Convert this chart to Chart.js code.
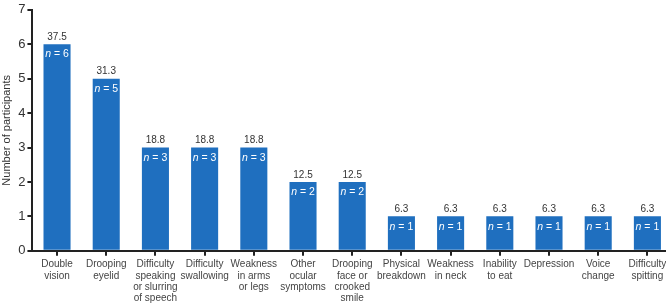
<!DOCTYPE html>
<html>
<head>
<meta charset="utf-8">
<script src="https://cdn.jsdelivr.net/npm/chart.js@4"></script>
<style>
  html, body { margin: 0; padding: 0; background: #fff; overflow: hidden; }
  #wrap { width: 666px; height: 304px; overflow: hidden; }
</style>
</head>
<body>
<div id="wrap"><canvas id="chartCanvas" width="672" height="304"></canvas></div>
<script>
// symptom categories (multi-line labels)
const categories = [
  ['Double', 'vision'],
  ['Drooping', 'eyelid'],
  ['Difficulty', 'speaking', 'or slurring', 'of speech'],
  ['Difficulty', 'swallowing'],
  ['Weakness', 'in arms', 'or legs'],
  ['Other', 'ocular', 'symptoms'],
  ['Drooping', 'face or', 'crooked', 'smile'],
  ['Physical', 'breakdown'],
  ['Weakness', 'in neck'],
  ['Inability', 'to eat'],
  ['Depression'],
  ['Voice', 'change'],
  ['Difficulty', 'spitting']
];
const counts = [6, 5, 3, 3, 3, 2, 2, 1, 1, 1, 1, 1, 1];
const percents = ['37.5', '31.3', '18.8', '18.8', '18.8', '12.5', '12.5', '6.3', '6.3', '6.3', '6.3', '6.3', '6.3'];
const yTicks = [0, 1, 2, 3, 4, 5, 6, 7];

const labelFont = 'Arial, "Liberation Sans", sans-serif';

// draws percentage above each bar and "n = x" inside
const barLabels = {
  id: 'barLabels',
  afterDatasetsDraw(chart) {
    const ctx = chart.ctx;
    const meta = chart.getDatasetMeta(0);
    ctx.save();
    meta.data.forEach((bar, i) => {
      ctx.textAlign = 'center';
      ctx.font = '10px ' + labelFont;
      ctx.fillStyle = '#333';
      ctx.textBaseline = 'bottom';
      ctx.fillText(percents[i], bar.x, bar.y - 2);

      // n = x, with italic n
      const rest = ' = ' + counts[i];
      ctx.font = 'italic 10.5px ' + labelFont;
      const w1 = ctx.measureText('n').width;
      ctx.font = '10.5px ' + labelFont;
      const w2 = ctx.measureText(rest).width;
      const x0 = bar.x - (w1 + w2) / 2;
      ctx.textAlign = 'left';
      ctx.textBaseline = 'top';
      ctx.fillStyle = '#fff';
      ctx.font = 'italic 10.5px ' + labelFont;
      ctx.fillText('n', x0, bar.y + 5);
      ctx.font = '10.5px ' + labelFont;
      ctx.fillText(rest, x0 + w1, bar.y + 5);
    });
    ctx.restore();
  }
};

const ctx = document.getElementById('chartCanvas').getContext('2d');
new Chart(ctx, {
  type: 'bar',
  data: {
    labels: categories,
    datasets: [{
      data: counts,
      backgroundColor: '#1f6fbf',
      barPercentage: 0.55,
      categoryPercentage: 1.0
    }]
  },
  options: {
    responsive: false,
    animation: false,
    layout: { padding: { top: -3, right: 0, left: 0, bottom: -3 } },
    plugins: {
      legend: { display: false },
      tooltip: { enabled: false }
    },
    scales: {
      x: {
        grid: { drawOnChartArea: false, drawTicks: true, tickLength: 5, color: '#222', lineWidth: 2, offset: false },
        border: { color: '#222', width: 2 },
        ticks: {
          color: '#444',
          font: { family: labelFont, size: 10, lineHeight: 1.13 },
          maxRotation: 0,
          autoSkip: false,
          padding: 3
        }
      },
      y: {
        min: 0,
        max: 7,
        afterBuildTicks(axis) { axis.ticks = yTicks.map(v => ({ value: v })); },
        grid: { drawOnChartArea: false, drawTicks: true, tickLength: 5, color: '#222', lineWidth: 2 },
        border: { color: '#222', width: 2 },
        title: {
          display: true,
          text: 'Number of participants',
          color: '#333',
          font: { family: labelFont, size: 11 },
          padding: { top: 0, bottom: 3 }
        },
        ticks: {
          color: '#333',
          font: { family: labelFont, size: 13 },
          padding: 2
        }
      }
    }
  },
  plugins: [barLabels]
});
</script>
</body>
</html>
